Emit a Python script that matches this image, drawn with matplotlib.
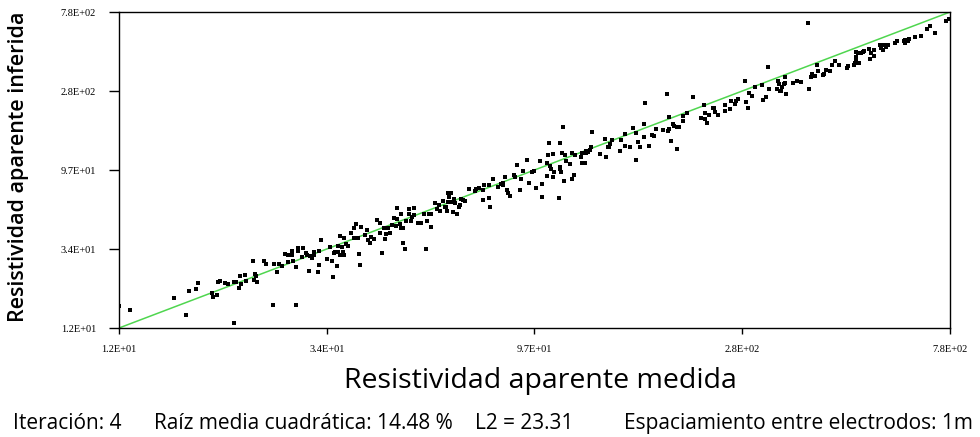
import numpy as np
import matplotlib
matplotlib.use('Agg')
import matplotlib.pyplot as plt
from matplotlib.ticker import NullLocator

# log10 de la resistividad aparente (ohm.m)
log_medida = [
    1.080, 1.104, 1.199, 1.225, 1.232, 1.247, 1.251, 1.283, 1.284, 1.292,
    1.295, 1.299, 1.311, 1.318, 1.330, 1.330, 1.334, 1.341, 1.343, 1.346,
    1.355, 1.356, 1.372, 1.376, 1.378, 1.374, 1.381,
    1.395, 1.399, 1.416, 1.417, 1.425, 1.428, 1.435, 1.442, 1.447, 1.448,
    1.457, 1.457, 1.459, 1.465, 1.466, 1.469, 1.470, 1.479, 1.481, 1.487,
    1.490, 1.494, 1.496, 1.501, 1.504, 1.505, 1.513, 1.516, 1.516, 1.520,
    1.534, 1.539, 1.544, 1.546, 1.548, 1.551, 1.554, 1.556, 1.558, 1.562,
    1.562, 1.566, 1.568, 1.569, 1.571, 1.575, 1.579, 1.585, 1.591, 1.592,
    1.597, 1.601, 1.603, 1.606, 1.607, 1.616, 1.620, 1.622, 1.627, 1.630,
    1.635, 1.642, 1.648, 1.648, 1.653, 1.658, 1.659, 1.662, 1.667, 1.670,
    1.674, 1.680,
    1.685, 1.683, 1.686, 1.692, 1.694, 1.695, 1.698, 1.699, 1.704, 1.705,
    1.711, 1.712, 1.716, 1.718, 1.723, 1.723, 1.731, 1.737, 1.745, 1.749,
    1.752, 1.756, 1.760, 1.760, 1.769, 1.772, 1.777, 1.779, 1.785, 1.790,
    1.793, 1.795, 1.797, 1.798, 1.800, 1.803, 1.806, 1.807, 1.810, 1.813,
    1.816, 1.820, 1.823, 1.825, 1.830, 1.835, 1.842, 1.855, 1.858, 1.865,
    1.873, 1.873, 1.875, 1.886, 1.886, 1.889, 1.896, 1.905, 1.913, 1.916,
    1.918, 1.922, 1.925, 1.928, 1.932, 1.941, 1.944, 1.948, 1.953, 1.956,
    1.960, 1.970, 1.974,
    1.981, 1.984, 1.990, 1.998, 2.001, 2.003, 2.013, 2.013, 2.016, 2.017,
    2.020, 2.022, 2.025, 2.026, 2.028, 2.039, 2.041, 2.041, 2.042, 2.043,
    2.045, 2.048, 2.049, 2.052, 2.055, 2.064, 2.067, 2.068, 2.071, 2.074,
    2.087, 2.089, 2.090, 2.093, 2.096, 2.097, 2.099, 2.103, 2.106, 2.110,
    2.112, 2.128, 2.139, 2.142, 2.145, 2.148, 2.151, 2.155, 2.172, 2.174,
    2.182, 2.183, 2.193, 2.201, 2.207, 2.208, 2.211, 2.215, 2.224, 2.224,
    2.227, 2.236, 2.241, 2.247, 2.250, 2.265,
    2.275, 2.277, 2.280, 2.280, 2.283, 2.287, 2.290, 2.296, 2.297, 2.300,
    2.309, 2.310, 2.318, 2.331, 2.348, 2.356, 2.357, 2.358, 2.363, 2.366,
    2.375, 2.377, 2.379, 2.386, 2.401, 2.402, 2.412, 2.414, 2.423, 2.425,
    2.430, 2.444, 2.447, 2.452, 2.453, 2.460, 2.466, 2.481, 2.485, 2.491,
    2.494, 2.497, 2.515, 2.517, 2.520, 2.521, 2.524, 2.526, 2.529, 2.533,
    2.533, 2.534, 2.550, 2.559,
    2.567, 2.583, 2.585, 2.589, 2.592, 2.598, 2.601, 2.604, 2.614, 2.617,
    2.621, 2.630, 2.635, 2.641, 2.649, 2.668, 2.669, 2.682, 2.685, 2.687,
    2.687, 2.687, 2.691, 2.694, 2.697, 2.702, 2.705, 2.716, 2.717, 2.720,
    2.726, 2.727, 2.739, 2.742, 2.746, 2.748, 2.753, 2.756, 2.772, 2.777,
    2.791, 2.793, 2.794, 2.800, 2.803, 2.816, 2.829, 2.842, 2.849, 2.860,
    2.884, 2.890,
]
log_inferida = [
    1.205, 1.181, 1.251, 1.152, 1.290, 1.301, 1.339, 1.278, 1.259, 1.270,
    1.341, 1.347, 1.339, 1.333, 1.109, 1.341, 1.341, 1.310, 1.376, 1.331,
    1.385, 1.349, 1.462, 1.389, 1.376, 1.356, 1.341,
    1.465, 1.446, 1.209, 1.446, 1.402, 1.446, 1.435, 1.504, 1.496, 1.459,
    1.523, 1.498, 1.462, 1.431, 1.209, 1.538, 1.521, 1.486, 1.536, 1.508,
    1.500, 1.406, 1.494, 1.479, 1.515, 1.496, 1.400, 1.439, 1.523, 1.586,
    1.473, 1.544, 1.462, 1.370, 1.509, 1.515, 1.435, 1.549, 1.517, 1.607,
    1.496, 1.542, 1.517, 1.496, 1.594, 1.561, 1.549, 1.626, 1.651, 1.594,
    1.676, 1.594, 1.504, 1.439, 1.658, 1.611, 1.641, 1.584, 1.568, 1.601,
    1.588, 1.699, 1.683, 1.626, 1.511, 1.653, 1.588, 1.618, 1.653, 1.622,
    1.668, 1.710,
    1.769, 1.664, 1.704, 1.674, 1.654, 1.733, 1.651, 1.565, 1.531, 1.691,
    1.760, 1.733, 1.691, 1.718, 1.766, 1.727, 1.680, 1.683, 1.733, 1.531,
    1.695, 1.733, 1.733, 1.660, 1.794, 1.760, 1.783, 1.752, 1.806, 1.775,
    1.775, 1.750, 1.852, 1.802, 1.832, 1.855, 1.802, 1.745, 1.821, 1.798,
    1.733, 1.772, 1.783, 1.817, 1.813, 1.809, 1.875, 1.867, 1.875, 1.881,
    1.871, 1.813, 1.901, 1.901, 1.825, 1.772, 1.932, 1.890, 1.905, 1.909,
    1.898, 1.944, 1.871, 1.855, 1.836, 1.959, 1.944, 2.012, 1.871, 1.932,
    1.978, 2.043, 1.913,
    1.974, 1.981, 1.882, 2.035, 1.905, 1.832, 2.024, 1.951, 2.070, 2.139,
    2.008, 1.993, 2.077, 1.944, 1.974, 1.825, 2.142, 2.004, 1.993, 1.974,
    2.081, 2.230, 1.924, 2.070, 2.035, 2.020, 2.085, 1.936, 1.959, 2.070,
    2.062, 2.027, 2.081, 2.027, 2.027, 2.096, 2.081, 2.089, 2.100, 2.116,
    2.203, 2.077, 2.165, 2.062, 2.116, 2.116, 2.135, 2.158, 2.096, 2.158,
    2.192, 2.123, 2.116, 2.226, 2.196, 2.043, 2.146, 2.116, 2.173, 2.249,
    2.368, 2.123, 2.185, 2.181, 2.222, 2.215,
    2.422, 2.211, 2.288, 2.222, 2.154, 2.249, 2.238, 2.104, 2.234, 2.230,
    2.265, 2.295, 2.311, 2.403, 2.284, 2.360, 2.311, 2.276, 2.257, 2.299,
    2.341, 2.341, 2.318, 2.299, 2.360, 2.322, 2.334, 2.383, 2.364, 2.383,
    2.391, 2.494, 2.376, 2.341, 2.426, 2.410, 2.460, 2.475, 2.387, 2.403,
    2.575, 2.452, 2.448, 2.494, 2.479, 2.440, 2.440, 2.463, 2.479, 2.483,
    2.521, 2.422, 2.486, 2.498,
    2.490, 2.827, 2.448, 2.517, 2.536, 2.525, 2.586, 2.555, 2.532, 2.536,
    2.559, 2.555, 2.590, 2.609, 2.586, 2.571, 2.582, 2.586, 2.598, 2.635,
    2.621, 2.662, 2.655, 2.601, 2.658, 2.662, 2.670, 2.681, 2.624, 2.655,
    2.674, 2.640, 2.704, 2.685, 2.674, 2.701, 2.693, 2.704, 2.712, 2.724,
    2.724, 2.716, 2.731, 2.724, 2.735, 2.747, 2.754, 2.796, 2.812, 2.773,
    2.839, 2.854,
]

rango = (12.0, 780.0)
etiquetas = ['1.2E+01', '3.4E+01', '9.7E+01', '2.8E+02', '7.8E+02']
pie = ['Iteración: 4', 'Raíz media cuadrática: 14.48 %', 'L2 = 23.31',
       'Espaciamiento entre electrodos: 1m']

medida = 10 ** np.array(log_medida)
inferida = 10 ** np.array(log_inferida)

fig = plt.figure(figsize=(9.8, 4.37), dpi=100)
ax = fig.add_axes([0.1214, 0.2494, 0.848, 0.7231])
ax.set_xscale('log')
ax.set_yscale('log')
ax.set_xlim(rango)
ax.set_ylim(rango)

ax.plot(rango, rango, color='#4fd64f', lw=1.1, zorder=1)
ax.scatter(medida, inferida, s=5, marker='s', c='black', linewidths=0, zorder=2)

ticks = np.geomspace(rango[0], rango[1], len(etiquetas))
ax.set_xticks(ticks, etiquetas)
ax.set_yticks(ticks, etiquetas)
ax.xaxis.set_minor_locator(NullLocator())
ax.yaxis.set_minor_locator(NullLocator())
ax.tick_params(direction='out', width=1, labelsize=7.5)
ax.tick_params(axis='x', length=4, pad=8)
ax.tick_params(axis='y', length=7.5, pad=9)
for lab in ax.get_xticklabels() + ax.get_yticklabels():
    lab.set_family('Liberation Serif')
for sp in ax.spines.values():
    sp.set_linewidth(1.0)

fig.text(0.551, 0.128, 'Resistividad aparente medida', ha='center', va='center',
         family='Open Sans', fontsize=20.5)
fig.text(0.019, 0.618, 'Resistividad aparente inferida', ha='center', va='center',
         rotation=90, family='Open Sans', fontsize=15.5, fontweight='semibold')

# posiciones del pie en pixeles: (x, alineacion)
pos_pie = [(13, 'left'), (303, 'center'), (524, 'center'), (973, 'right')]
for (x, alin), txt in zip(pos_pie, pie):
    fig.text(x / 980, 0.03, txt, ha=alin, va='center',
             family='Open Sans', fontsize=15)

fig.savefig('out.png', dpi=100)
